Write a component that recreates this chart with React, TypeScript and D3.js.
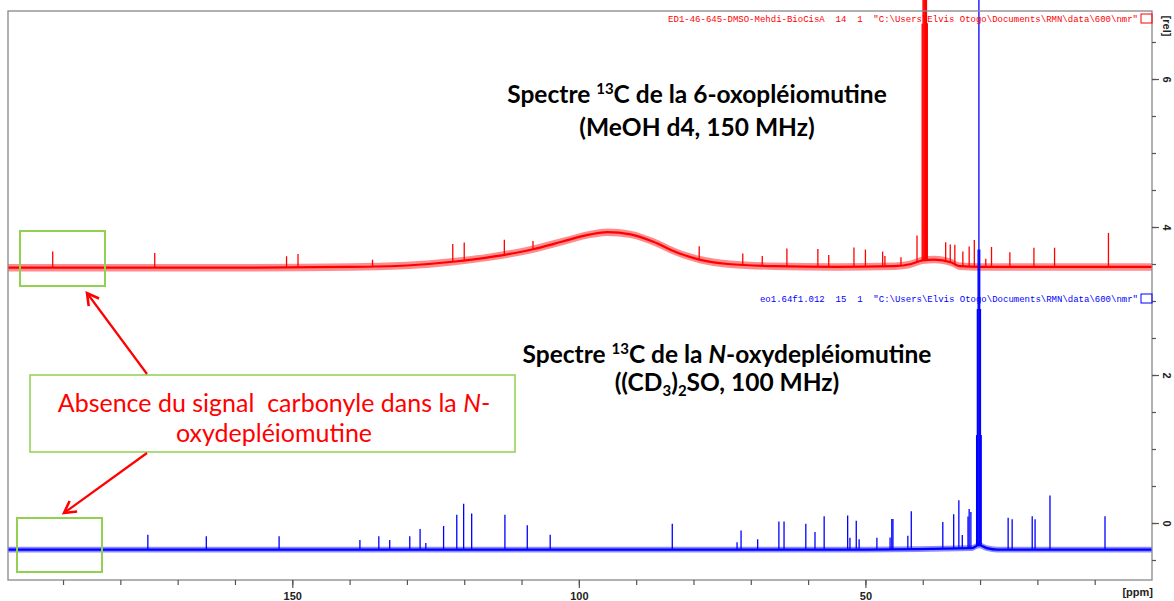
import React, { useEffect, useRef } from "react";
import * as d3 from "d3";

// baseline shape (ppm, rel)
const redBase: [number, number][] = [
  [199.6, 3.45], [160, 3.45], [140, 3.46], [130, 3.48], [122, 3.53], [115, 3.6],
  [108, 3.7], [103, 3.8], [98, 3.9], [95, 3.93], [91, 3.9], [87, 3.8], [83, 3.66],
  [79, 3.56], [74, 3.5], [66, 3.47], [55, 3.46], [45, 3.47], [42, 3.5], [40, 3.55],
  [38, 3.56], [35, 3.52], [33.5, 3.47], [30, 3.46], [0, 3.46],
];
const blueBase: [number, number][] = [
  [199.6, -0.36], [100, -0.36], [50, -0.36], [31.5, -0.34], [30.2, -0.3],
  [28.8, -0.34], [27, -0.36], [0, -0.36],
];

// peaks (ppm, height above baseline in rel)
const redPeaks: [number, number][] = [
  [191.8, 0.22], [174, 0.2], [151, 0.15], [149, 0.18], [136, 0.09], [122, 0.24],
  [120, 0.24], [113, 0.2], [108, 0.11], [79, 0.18], [71.4, 0.15], [68, 0.13],
  [63.7, 0.24], [58.3, 0.24], [56.4, 0.16], [52, 0.26], [50, 0.23], [47, 0.2],
  [46.6, 0.14], [43.8, 0.11], [41, 0.36], [36, 0.26], [35.2, 0.24], [34.4, 0.26],
  [33, 0.2], [31.9, 0.27], [31, 0.36], [29, 0.11], [28, 0.27], [24.8, 0.2],
  [20.6, 0.26], [17, 0.26], [7.6, 0.46],
  // solvent multiplet
  [40.1, 3.2], [39.95, 6], [39.8, 6], [39.65, 6], [39.5, 6], [39.35, 6], [39.2, 3.2],
];
const bluePeaks: [number, number][] = [
  [175.2, 0.2], [165, 0.18], [152.3, 0.18], [138.2, 0.13], [134.9, 0.18],
  [133, 0.13], [129.5, 0.18], [127.7, 0.28], [126.7, 0.09], [123.6, 0.32],
  [121.3, 0.47], [120.1, 0.62], [118.7, 0.49], [112.9, 0.47], [109, 0.33],
  [105, 0.2], [83.7, 0.35], [72.4, 0.1], [71.7, 0.26], [68.8, 0.14], [65.1, 0.38],
  [64.2, 0.38], [60.4, 0.35], [58.8, 0.24], [57.2, 0.45], [53.1, 0.46], [52.7, 0.16],
  [51.6, 0.39], [51.1, 0.14], [48, 0.16], [45.7, 0.16], [45.4, 0.41], [45.2, 0.41],
  [42.6, 0.18], [42, 0.51], [36.5, 0.36], [34.6, 0.46], [33.7, 0.65], [33.1, 0.18],
  [32.1, 0.43], [31.9, 0.53], [31.6, 0.49], [25.1, 0.43], [24.4, 0.41],
  [20.9, 0.45], [20.4, 0.41], [17.8, 0.73], [8.2, 0.45],
  // solvent septet
  [30.6, 1.5], [30.47, 3.2], [30.34, 4.0], [30.2, 9], [30.06, 4.0], [29.93, 3.2], [29.8, 1.5],
];

const redNoise = 0.05;
const blueNoise = 0.04;

const xTicksMajor = [150, 100, 50];
const yTicksMajor = [0, 2, 4, 6];

const redHeader = 'ED1-46-645-DMSO-Mehdi-BioCisA  14  1  "C:\\Users\\Elvis Otogo\\Documents\\RMN\\data\\600\\nmr"';
const blueHeader = 'eo1.64f1.012  15  1  "C:\\Users\\Elvis Otogo\\Documents\\RMN\\data\\600\\nmr"';

const W = 1174;
const H = 601;
const X0 = 8, X1 = 1152, Y0 = 11, Y1 = 580;

const x = d3.scaleLinear([199.6, 0], [X0, X1]);
const y = d3.scaleLinear([0, 6], [523, 79]);

const baseAt = (base: [number, number][], ppm: number) => {
  const f = d3.scaleLinear(base.map((d) => d[0]), base.map((d) => d[1]));
  return f(ppm);
};

const Spectrum = ({ base, peaks, noise, color }: {
  base: [number, number][]; peaks: [number, number][]; noise: number; color: string;
}) => {
  const band = d3.area<[number, number]>()
    .x((d) => x(d[0]))
    .y0((d) => y(d[1] - noise))
    .y1((d) => y(d[1] + noise))
    .curve(d3.curveMonotoneX);
  const line = d3.line<[number, number]>()
    .x((d) => x(d[0]))
    .y((d) => y(d[1]))
    .curve(d3.curveMonotoneX);
  const sorted = [...base].sort((a, b) => a[0] - b[0]);
  return (
    <g>
      <path d={band(base) ?? ""} fill={color} fillOpacity={0.45} />
      <path d={line(base) ?? ""} fill="none" stroke={color} strokeWidth={2.2} />
      <g stroke={color} strokeWidth={1.3}>
        {peaks.map(([p, h], i) => {
          const b = baseAt(sorted, p);
          return <line key={i} x1={x(p)} x2={x(p)} y1={y(b)} y2={y(b + h)} />;
        })}
      </g>
    </g>
  );
};

const App = () => {
  const gxMinor = useRef<SVGGElement>(null);
  const gxMajor = useRef<SVGGElement>(null);
  const gyMinor = useRef<SVGGElement>(null);
  const gyMajor = useRef<SVGGElement>(null);

  useEffect(() => {
    const minorX = d3.range(10, 200, 10);
    d3.select(gxMinor.current)
      .call(d3.axisBottom(x).tickValues(minorX).tickSize(5).tickFormat(() => ""))
      .call((g) => g.select(".domain").remove());
    d3.select(gxMajor.current)
      .call(d3.axisBottom(x).tickValues(xTicksMajor).tickSize(8).tickPadding(4).tickFormat(d3.format("d")))
      .call((g) => g.select(".domain").remove());
    const minorY = d3.range(-0.5, 7, 0.5);
    d3.select(gyMinor.current)
      .call(d3.axisRight(y).tickValues(minorY).tickSize(4).tickFormat(() => ""))
      .call((g) => g.select(".domain").remove());
    d3.select(gyMajor.current)
      .call(d3.axisRight(y).tickValues(yTicksMajor).tickSize(7).tickFormat(d3.format("d")))
      .call((g) => g.select(".domain").remove())
      .call((g) =>
        g.selectAll(".tick text")
          .attr("x", 0)
          .attr("dy", 0)
          .attr("transform", "translate(14,0) rotate(90)")
          .attr("text-anchor", "middle")
          .attr("dominant-baseline", "middle")
      );
    for (const r of [gxMinor, gxMajor, gyMinor, gyMajor]) {
      const g = d3.select(r.current);
      g.selectAll("line").attr("stroke", "#555").attr("stroke-width", 1.2);
      g.selectAll("text")
        .attr("fill", "#222")
        .style("font-family", "Liberation Sans, Arial, sans-serif")
        .style("font-size", "11px")
        .style("font-weight", "bold");
    }
  }, []);

  const titleFont = { fontFamily: "Lato, 'Open Sans', sans-serif", fontWeight: 700, fontSize: 24.5 };
  const noteFont = { fontFamily: "Lato, 'Open Sans', sans-serif", fontSize: 25, whiteSpace: "pre" as const };

  return (
    <svg width={W} height={H} style={{ position: "absolute", left: 0, top: 0, background: "#fff" }}>
      <defs>
        <marker id="arr" viewBox="0 0 12 12" refX="10" refY="6" markerWidth="7" markerHeight="7" orient="auto">
          <path d="M1,1 L10,6 L1,11" fill="none" stroke="#ff0000" strokeWidth={2} />
        </marker>
      </defs>
      <rect x={0} y={0} width={W} height={H} fill="#fff" />

      <Spectrum base={redBase} peaks={redPeaks} noise={redNoise} color="#ff0000" />
      <Spectrum base={blueBase} peaks={bluePeaks} noise={blueNoise} color="#0000ff" />

      <rect x={X0} y={Y0} width={X1 - X0} height={Y1 - Y0} fill="none" stroke="#888" strokeWidth={1.3} />
      <g ref={gxMinor} transform={`translate(0,${Y1})`} />
      <g ref={gxMajor} transform={`translate(0,${Y1})`} />
      <g ref={gyMinor} transform={`translate(${X1},0)`} />
      <g ref={gyMajor} transform={`translate(${X1},0)`} />
      <text x={X1 + 1} y={596} textAnchor="end" fontFamily="Liberation Sans, Arial, sans-serif" fontSize={11} fontWeight="bold" fill="#222">[ppm]</text>
      <text transform={`translate(${X1 + 14},26) rotate(90)`} textAnchor="middle" dominantBaseline="middle" fontFamily="Liberation Sans, Arial, sans-serif" fontSize={11} fontWeight="bold" fill="#222">[rel]</text>

      <text x={1138} y={22} textAnchor="end" fontFamily="Liberation Mono, monospace" fontSize={9} fill="#ff0000" style={{ whiteSpace: "pre" }}>{redHeader}</text>
      <rect x={1141} y={14} width={11} height={9} fill="none" stroke="#ff0000" strokeWidth={1} />
      <text x={1138} y={302} textAnchor="end" fontFamily="Liberation Mono, monospace" fontSize={9} fill="#0000ff" style={{ whiteSpace: "pre" }}>{blueHeader}</text>
      <rect x={1141} y={294} width={11} height={9} fill="none" stroke="#0000ff" strokeWidth={1} />

      <text textAnchor="middle" style={titleFont} fill="#000">
        <tspan x={697} y={103}>Spectre <tspan fontSize={15} dy={-9}>13</tspan><tspan dy={9}>C de la 6-oxopléiomutine</tspan></tspan>
        <tspan x={697} y={136}>(MeOH d4, 150 MHz)</tspan>
      </text>
      <text textAnchor="middle" style={titleFont} fill="#000">
        <tspan x={727} y={363}>Spectre <tspan fontSize={15} dy={-9}>13</tspan><tspan dy={9}>C de la </tspan><tspan fontStyle="italic">N</tspan>-oxydepléiomutine</tspan>
        <tspan x={727} y={391}>((CD<tspan fontSize={15} dy={5}>3</tspan><tspan dy={-5}>)</tspan><tspan fontSize={15} dy={5}>2</tspan><tspan dy={-5}>SO, 100 MHz)</tspan></tspan>
      </text>

      <rect x={20} y={231} width={85} height={55} fill="none" stroke="#92d050" strokeWidth={2} />
      <rect x={17} y={518} width={85} height={54} fill="none" stroke="#92d050" strokeWidth={2} />

      <rect x={30} y={375} width={485} height={77} fill="#fff" stroke="#92d050" strokeWidth={1.5} />
      <text textAnchor="middle" style={noteFont} fill="#ff0000">
        <tspan x={274} y={412}>Absence du signal  carbonyle dans la <tspan fontStyle="italic">N</tspan>-</tspan>
        <tspan x={274} y={442}>oxydepléiomutine</tspan>
      </text>

      <line x1={147} y1={374} x2={87} y2={293} stroke="#ff0000" strokeWidth={2.2} markerEnd="url(#arr)" />
      <line x1={147} y1={453} x2={64} y2={513} stroke="#ff0000" strokeWidth={2.2} markerEnd="url(#arr)" />
    </svg>
  );
};

export default App;
